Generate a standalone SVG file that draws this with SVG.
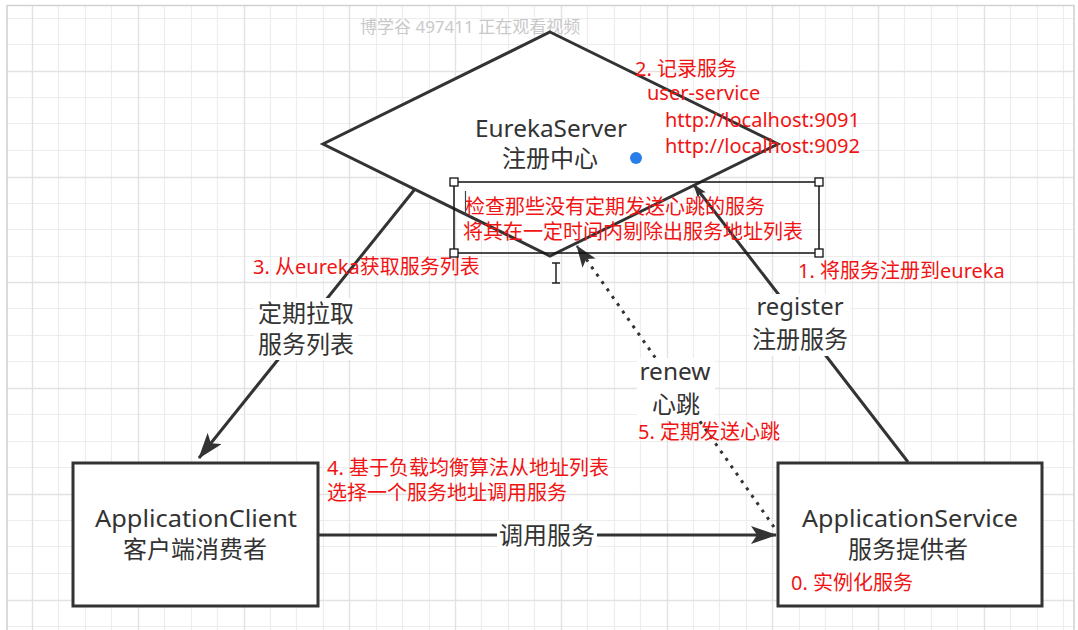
<svg xmlns="http://www.w3.org/2000/svg" width="1078" height="630" viewBox="0 0 1078 630">
<style>
.gmin{stroke:#ededed;stroke-width:1.2;fill:none}
.gmaj{stroke:#e2e2e2;stroke-width:1.4;fill:none}
.border{stroke:#d2d2d2;stroke-width:1.6;fill:none}
.node{fill:#fff;stroke:#333;stroke-width:3}
.lbl{font-family:"Noto Sans","Noto Sans CJK SC",sans-serif;fill:#333;font-size:24px;text-anchor:middle}
.red{font-family:"Noto Sans","Noto Sans CJK SC",sans-serif;fill:#f01414;font-size:20px}
.edge{stroke:#333;stroke-width:3;fill:none}
.dotted{stroke-dasharray:3 6}
.lblbg{fill:#fff}
.handle{fill:#fff;stroke:#111;stroke-width:1.3}
</style>
<defs>
<marker id="arr" markerUnits="userSpaceOnUse" markerWidth="26" markerHeight="18" viewBox="0 0 26 18" refX="25" refY="9" orient="auto"><path d="M0,0 L26,9 L0,18 L6,9 Z" fill="#333"/></marker>
<marker id="arrMid" markerUnits="userSpaceOnUse" markerWidth="22" markerHeight="16" viewBox="0 0 22 16" refX="21" refY="8" orient="auto"><path d="M0,0 L22,8 L0,16 L5,8 Z" fill="#333"/></marker>
<marker id="arrSmall" markerUnits="userSpaceOnUse" markerWidth="14" markerHeight="10" viewBox="0 0 14 10" refX="13" refY="5" orient="auto"><path d="M0,0 L14,5 L0,10 L3,5 Z" fill="#333"/></marker>
</defs>
<rect x="0" y="0" width="1078" height="630" fill="#fff"/>
<g id="grid">
<path class="gmin" d="M58.5 5V630M85.5 5V630M111.5 5V630M164.5 5V630M191.5 5V630M217.5 5V630M270.5 5V630M296.5 5V630M323.5 5V630M376.5 5V630M402.5 5V630M429.5 5V630M481.5 5V630M508.5 5V630M534.5 5V630M587.5 5V630M614.5 5V630M640.5 5V630M693.5 5V630M719.5 5V630M746.5 5V630M799.5 5V630M825.5 5V630M852.5 5V630M904.5 5V630M931.5 5V630M957.5 5V630M1010.5 5V630M1037.5 5V630M1063.5 5V630M7 18.5H1074M7 44.5H1074M7 97.5H1074M7 123.5H1074M7 150.5H1074M7 203.5H1074M7 229.5H1074M7 256.5H1074M7 308.5H1074M7 335.5H1074M7 361.5H1074M7 414.5H1074M7 441.5H1074M7 467.5H1074M7 520.5H1074M7 546.5H1074M7 573.5H1074M7 626.5H1074"/>
<path class="gmaj" d="M32.5 5V630M138.5 5V630M244.5 5V630M349.5 5V630M455.5 5V630M561.5 5V630M667.5 5V630M772.5 5V630M878.5 5V630M984.5 5V630M7 71.5H1074M7 177.5H1074M7 282.5H1074M7 388.5H1074M7 494.5H1074M7 600.5H1074"/>
<path class="border" d="M7 630V5.5H1074V630"/>
</g>
<text x="360" y="33" font-family="'Noto Sans','Noto Sans CJK SC',sans-serif" font-size="17" fill="#c9c9c9">博学谷 497411 正在观看视频</text>
<g id="eureka-server">
<polygon class="node" points="550,32 778,144 550,256 323,144"/>
<text class="lbl" x="551" y="137" textLength="152" lengthAdjust="spacingAndGlyphs">EurekaServer</text>
<text class="lbl" x="550" y="167">注册中心</text>
<circle cx="636" cy="158" r="6" fill="#2b7de9"/>
</g>
<g id="application-client">
<rect class="node" x="73" y="463" width="245" height="143"/>
<text class="lbl" x="196" y="527" textLength="202" lengthAdjust="spacingAndGlyphs">ApplicationClient</text>
<text class="lbl" x="195" y="558">客户端消费者</text>
</g>
<g id="application-service">
<rect class="node" x="778" y="463" width="264" height="143"/>
<text class="lbl" x="910" y="527" textLength="216" lengthAdjust="spacingAndGlyphs">ApplicationService</text>
<text class="lbl" x="908" y="558">服务提供者</text>
</g>
<g id="connectors">
<path class="edge" d="M415,189 L199,458" marker-end="url(#arr)"/>
<path class="edge" d="M908,462 L694,185" marker-end="url(#arrSmall)"/>
<path class="edge dotted" d="M774,527 L577,246" marker-end="url(#arrMid)"/>
<path class="edge" d="M318,535 L776,535" marker-end="url(#arr)"/>
<rect class="lblbg" x="254" y="298" width="104" height="62"/>
<text class="lbl" x="306" y="322">定期拉取</text>
<text class="lbl" x="306" y="353">服务列表</text>
<rect class="lblbg" x="750" y="294" width="100" height="62"/>
<text class="lbl" x="800" y="315" textLength="87" lengthAdjust="spacingAndGlyphs">register</text>
<text class="lbl" x="800" y="348">注册服务</text>
<rect class="lblbg" x="637" y="358" width="78" height="62"/>
<text class="lbl" x="675" y="380" textLength="71" lengthAdjust="spacingAndGlyphs">renew</text>
<text class="lbl" x="676" y="413">心跳</text>
<rect class="lblbg" x="497" y="521" width="100" height="28"/>
<text class="lbl" x="547" y="544">调用服务</text>
</g>
<g id="annotations">
<text class="red" x="635" y="76">2. 记录服务</text>
<text class="red" x="647" y="100">user-service</text>
<text class="red" x="665" y="127">http://localhost:9091</text>
<text class="red" x="665" y="153">http://localhost:9092</text>
<text class="red" x="253" y="274">3. 从eureka获取服务列表</text>
<text class="red" x="798" y="278">1. 将服务注册到eureka</text>
<text class="red" x="638" y="439">5. 定期发送心跳</text>
<text class="red" x="327" y="475">4. 基于负载均衡算法从地址列表</text>
<text class="red" x="327" y="500">选择一个服务地址调用服务</text>
<text class="red" x="791" y="590">0. 实例化服务</text>
</g>
<g id="selection-note">
<rect x="454" y="182" width="365" height="71" fill="none" stroke="#111" stroke-width="1.5"/>
<text class="red" x="465" y="214">检查那些没有定期发送心跳的服务</text>
<text class="red" x="463" y="239">将其在一定时间内剔除出服务地址列表</text>
<path d="M465.5 191V215" stroke="#444" stroke-width="1.2"/>
<rect class="handle" x="450" y="178" width="8" height="8"/>
<rect class="handle" x="815" y="178" width="8" height="8"/>
<rect class="handle" x="450" y="249" width="8" height="8"/>
<rect class="handle" x="815" y="249" width="8" height="8"/>
</g>
<path id="cursor" d="M552 263H560M556 263V283M552 283H560" stroke="#222" stroke-width="1.5" fill="none"/>
</svg>
